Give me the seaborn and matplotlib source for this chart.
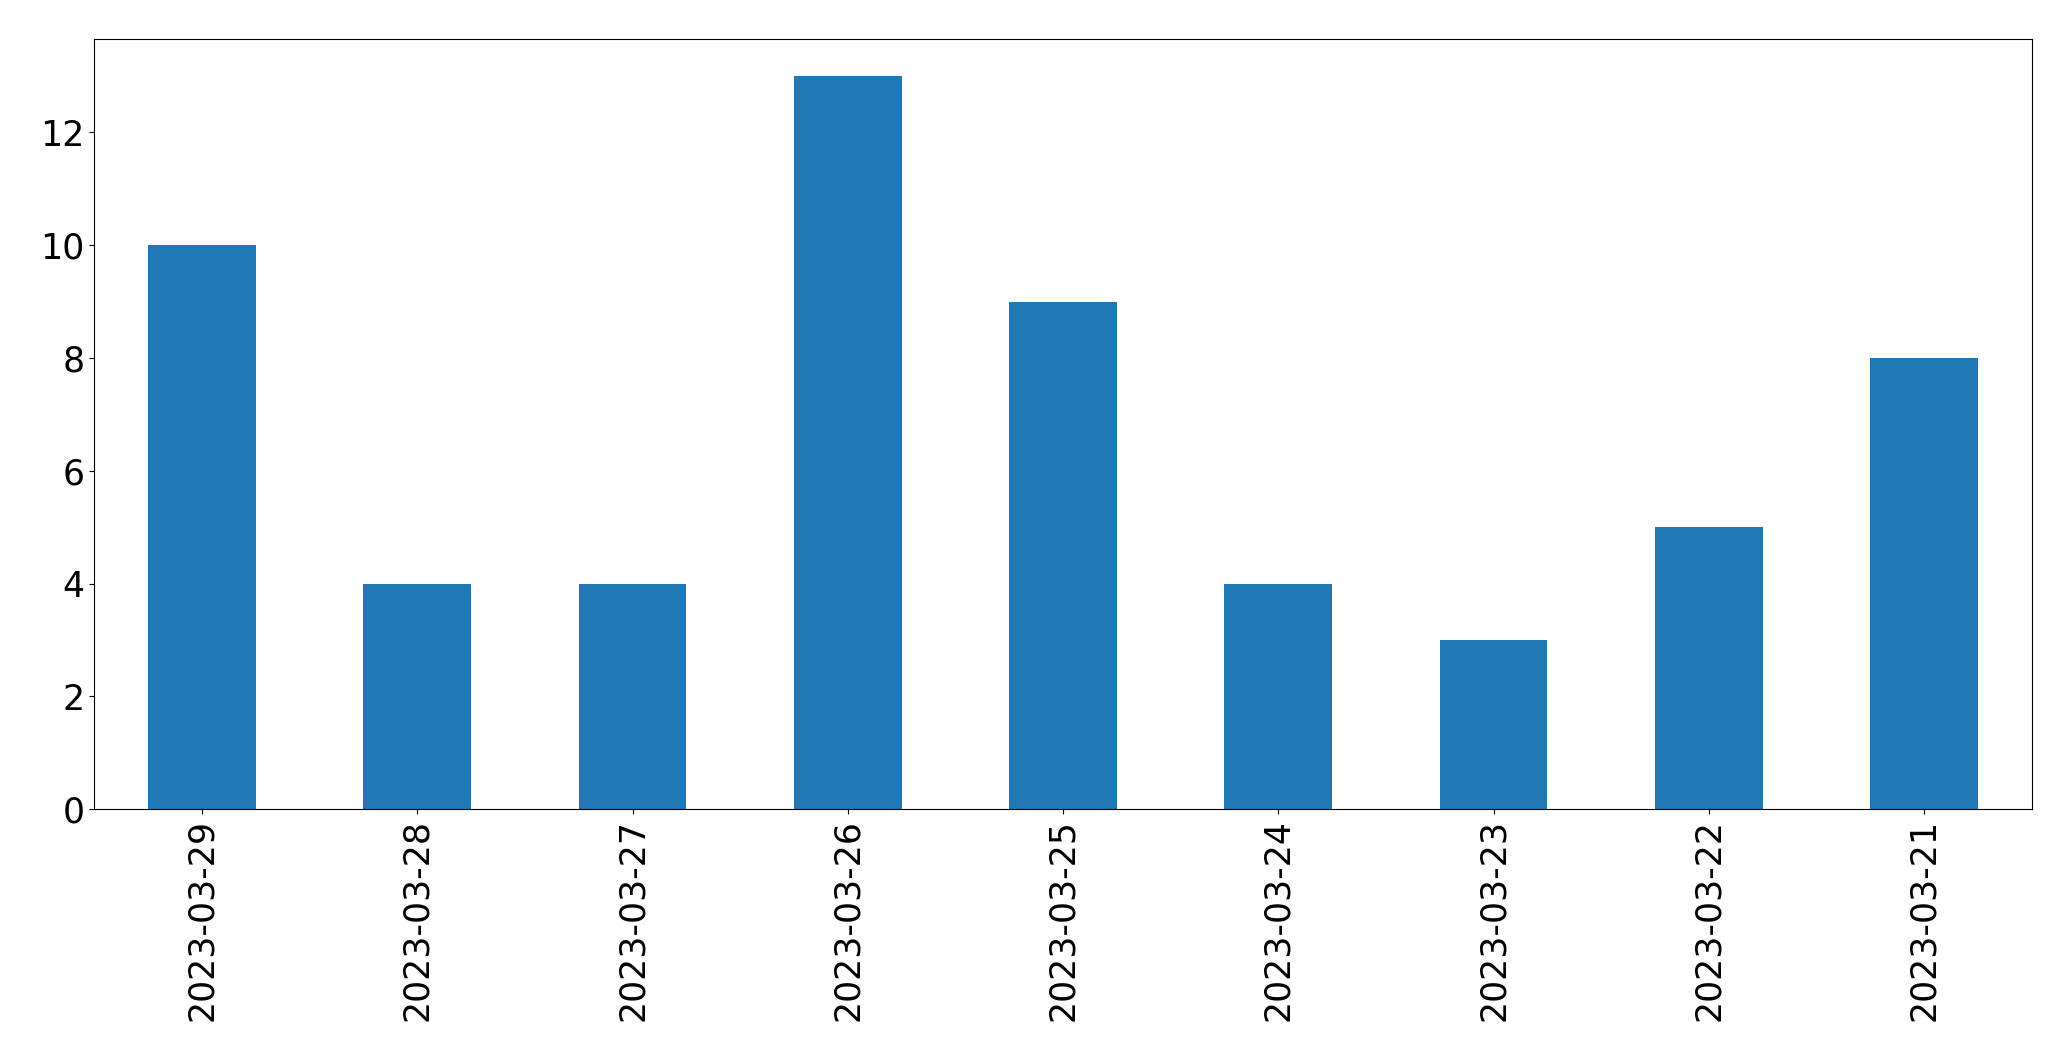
import pandas as pd
import matplotlib
matplotlib.use('Agg')
import matplotlib.pyplot as plt
import seaborn as sns

dates = ['2023-03-29', '2023-03-28', '2023-03-27', '2023-03-26', '2023-03-25',
         '2023-03-24', '2023-03-23', '2023-03-22', '2023-03-21']
counts = [10, 4, 4, 13, 9, 4, 3, 5, 8]

df = pd.DataFrame({'date': dates, 'count': counts})

fig, ax = plt.subplots(figsize=(20.71, 10.61), dpi=100)
fig.subplots_adjust(left=0.0456, right=0.981, top=0.9628, bottom=0.2375)

sns.barplot(data=df, x='date', y='count', order=dates, color='#1f77b4',
            saturation=1, width=0.5, ax=ax)

ax.set_xlabel('')
ax.set_ylabel('')
ax.set_xlim(-0.5, len(dates) - 0.5)
ax.set_ylim(0, 13.65)
ax.set_yticks(range(0, 13, 2))
ax.tick_params(axis='x', labelrotation=90, labelsize=25)
ax.tick_params(axis='y', labelsize=25)

fig.savefig('out.png', dpi=100)
